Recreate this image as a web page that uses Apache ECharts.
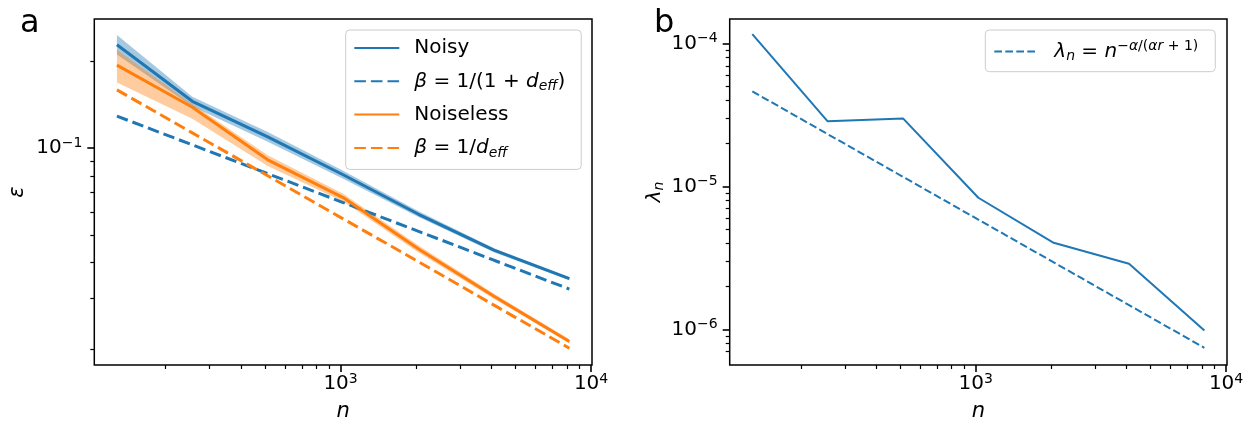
<!DOCTYPE html>
<html><head><meta charset="utf-8">
<script src="https://cdn.jsdelivr.net/npm/echarts@6/dist/echarts.min.js"></script>
<style>html,body{margin:0;padding:0;background:#fff}#c{width:1256px;height:427px}</style>
</head><body><div id="c"></div>
<script>
// ---- data ----
const nValues = [128, 256, 512, 1024, 2048, 4096, 8192];
const noisyMean      = [0.2284, 0.1453, 0.1094, 0.0808, 0.0589, 0.0442, 0.0352];
const noisyLower     = [0.2110, 0.1393, 0.1052, 0.0783, 0.0576, 0.0435, 0.0348];
const noisyUpper     = [0.2470, 0.1507, 0.1138, 0.0834, 0.0604, 0.0449, 0.0356];
const noisyTheory    = [0.1291, 0.1026, 0.0815, 0.0647, 0.0514, 0.0408, 0.0324];
const noiselessMean  = [0.1940, 0.1386, 0.0910, 0.0673, 0.0446, 0.0306, 0.0213];
const noiselessLower = [0.1688, 0.1264, 0.0866, 0.0652, 0.0434, 0.0300, 0.0210];
const noiselessUpper = [0.2195, 0.1423, 0.0944, 0.0694, 0.0459, 0.0312, 0.0217];
const noiselessTheory= [0.1592, 0.1129, 0.0801, 0.0568, 0.0403, 0.0285, 0.0202];
const lambdaEstimated= [1.166e-4, 2.86e-5, 3.0e-5, 8.35e-6, 4.04e-6, 2.88e-6, 9.85e-7];
const lambdaTheory   = [4.64e-5, 2.33e-5, 1.17e-5, 5.87e-6, 2.95e-6, 1.48e-6, 7.44e-7];

// axis limits and ticks
const xLimits = [103.97, 10086];
const leftYLimits = [0.01766, 0.2805];
const rightYLimits = [5.64e-7, 1.4885e-4];
const xMajorTicks = [1000, 10000];
const xMinorTicks = [200, 300, 400, 500, 600, 700, 800, 900, 2000, 3000, 4000, 5000, 6000, 7000, 8000, 9000];
const leftYMajorTicks = [0.1];
const leftYMinorTicks = [0.02, 0.03, 0.04, 0.05, 0.06, 0.07, 0.08, 0.09, 0.2];
const rightYMajorTicks = [1e-6, 1e-5, 1e-4];
const rightYMinorTicks = [7e-7, 8e-7, 9e-7, 2e-6, 3e-6, 4e-6, 5e-6, 6e-6, 7e-6, 8e-6, 9e-6,
                          2e-5, 3e-5, 4e-5, 5e-5, 6e-5, 7e-5, 8e-5, 9e-5];

const legendLeftNames = ['Noisy', 'β = 1/(1 + d_eff)', 'Noiseless', 'β = 1/d_eff'];
const legendRightNames = ['λ_n = n^(−α/(αr + 1))'];
const legendLabels = {
  'Noisy': 'Noisy',
  'β = 1/(1 + d_eff)': '{it|β} = 1/(1 + {it|d}{sub|eff})',
  'Noiseless': 'Noiseless',
  'β = 1/d_eff': '{it|β} = 1/{it|d}{sub|eff}',
  'λ_n = n^(−α/(αr + 1))': '{it|λ}{sub|n} = {it|n}{sup|−}{supi|α}{sup|/(}{supi|αr}{sup| + 1)}'
};

// ---- styling ----
const F = 'DejaVu Sans';
const BLUE = '#1f77b4', ORANGE = '#ff7f0e';
const lg = v => Math.log10(v);
const tickRich = {
  b: {fontFamily: F, fontSize: 20, lineHeight: 24, color: '#000'},
  s: {fontFamily: F, fontSize: 14, lineHeight: 15, verticalAlign: 'top', color: '#000'}
};
const mathRich = {
  it: {fontFamily: F, fontStyle: 'italic', fontSize: 20, lineHeight: 24, color: '#000'},
  sub: {fontFamily: F, fontStyle: 'italic', fontSize: 14, lineHeight: 15, verticalAlign: 'bottom', color: '#000'},
  sup: {fontFamily: F, fontSize: 14, lineHeight: 13, verticalAlign: 'top', color: '#000'},
  supi: {fontFamily: F, fontStyle: 'italic', fontSize: 14, lineHeight: 13, verticalAlign: 'top', color: '#000'}
};
function majorLabel(v) {
  const e = Math.round(v);
  return '{b|10}{s|' + (e < 0 ? '\u2212' + (-e) : String(e)) + '}';
}
function logAxis(grid, lim) {
  return {type: 'log', logBase: 10, gridIndex: grid, min: lim[0], max: lim[1], show: false};
}
function majorAxis(grid, lim, ticks, pos, margin, extra) {
  return Object.assign({
    type: 'value', gridIndex: grid, position: pos, min: lg(lim[0]), max: lg(lim[1]),
    axisLine: {show: false}, splitLine: {show: false},
    axisTick: {show: true, customValues: ticks.map(lg), length: 7, lineStyle: {color: '#000', width: 1.6}},
    axisLabel: {show: true, customValues: ticks.map(lg), formatter: majorLabel, rich: tickRich,
                margin: margin, color: '#000', fontFamily: F, fontSize: 20}
  }, extra || {});
}
function minorAxis(grid, lim, ticks, pos) {
  return {
    type: 'value', gridIndex: grid, position: pos, min: lg(lim[0]), max: lg(lim[1]),
    axisLine: {show: false}, splitLine: {show: false}, axisLabel: {show: false},
    axisTick: {show: true, customValues: ticks.map(lg), length: 4, lineStyle: {color: '#000', width: 1.2}}
  };
}
function bandSeries(name, lower, upper, color, xi, yi) {
  return {
    type: 'custom', name: name, xAxisIndex: xi, yAxisIndex: yi, clip: true, silent: true,
    data: nValues.map((n, i) => [n, lower[i], upper[i]]),
    encode: {x: 0, y: [1, 2]},
    renderItem: function (params, api) {
      if (params.dataIndex !== 0) return null;
      const pts = [];
      for (let i = 0; i < nValues.length; i++) pts.push(api.coord([nValues[i], upper[i]]));
      for (let i = nValues.length - 1; i >= 0; i--) pts.push(api.coord([nValues[i], lower[i]]));
      return {type: 'polygon', shape: {points: pts}, style: {fill: color}};
    }
  };
}
function lineSeries(name, vals, color, width, dash, xi, yi) {
  return {
    type: 'line', name: name, xAxisIndex: xi, yAxisIndex: yi,
    data: nValues.map((n, i) => [n, vals[i]]),
    symbol: 'none', showSymbol: false, clip: true, silent: true,
    lineStyle: {color: color, width: width, type: dash || 'solid'},
    itemStyle: {color: color}, emphasis: {disabled: true}
  };
}
const nameStyleN = {fontFamily: F, fontStyle: 'italic', fontSize: 21, lineHeight: 21, color: '#000'};

const option = {
  animation: false,
  grid: [
    {left: 94.3, top: 19, width: 497.7, height: 350.7, show: true, borderColor: '#000', borderWidth: 1.5, backgroundColor: 'rgba(0,0,0,0)'},
    {left: 729.7, top: 19, width: 497.3, height: 350.7, show: true, borderColor: '#000', borderWidth: 1.5, backgroundColor: 'rgba(0,0,0,0)'}
  ],
  xAxis: [
    logAxis(0, xLimits),
    majorAxis(0, xLimits, xMajorTicks, 'bottom', 7, {name: 'n', nameLocation: 'middle', nameGap: 36, nameTextStyle: nameStyleN}),
    minorAxis(0, xLimits, xMinorTicks, 'bottom'),
    logAxis(1, xLimits),
    majorAxis(1, xLimits, xMajorTicks, 'bottom', 7, {name: 'n', nameLocation: 'middle', nameGap: 36, nameTextStyle: nameStyleN}),
    minorAxis(1, xLimits, xMinorTicks, 'bottom')
  ],
  yAxis: [
    logAxis(0, leftYLimits),
    majorAxis(0, leftYLimits, leftYMajorTicks, 'left', 12, {name: 'ε', nameLocation: 'middle', nameRotate: 90, nameGap: 66, nameTextStyle: nameStyleN}),
    minorAxis(0, leftYLimits, leftYMinorTicks, 'left'),
    logAxis(1, rightYLimits),
    majorAxis(1, rightYLimits, rightYMajorTicks, 'left', 12, {name: '{it|λ}{sub|n}', nameLocation: 'middle', nameRotate: 90, nameGap: 63,
      nameTextStyle: {fontFamily: F, fontSize: 20, lineHeight: 24, color: '#000', rich: mathRich}}),
    minorAxis(1, rightYLimits, rightYMinorTicks, 'left')
  ],
  legend: [
    {
      data: legendLeftNames, orient: 'vertical', left: 345.7, top: 30,
      itemWidth: 45, itemHeight: 14, itemGap: 9.3, padding: [6, 16, 9.5, 7.6],
      backgroundColor: 'rgba(255,255,255,0.8)', borderColor: '#cccccc', borderWidth: 1, borderRadius: 4,
      selectedMode: false, itemStyle: {opacity: 0},
      textStyle: {fontFamily: F, fontSize: 20, lineHeight: 24, color: '#000', padding: [0, 0, 0, 10], rich: mathRich},
      formatter: n => legendLabels[n] || n
    },
    {
      data: legendRightNames, orient: 'vertical', left: 985.3, top: 30,
      itemWidth: 43, itemHeight: 14, itemGap: 8, padding: [9.5, 17, 8.2, 8],
      backgroundColor: 'rgba(255,255,255,0.8)', borderColor: '#cccccc', borderWidth: 1, borderRadius: 4,
      selectedMode: false, itemStyle: {opacity: 0},
      textStyle: {fontFamily: F, fontSize: 20, lineHeight: 24, color: '#000', padding: [0, 0, 0, 12], rich: mathRich},
      formatter: n => legendLabels[n] || n
    }
  ],
  graphic: [
    {type: 'text', left: 20, top: 7.8, style: {text: 'a', font: '32px "DejaVu Sans"', fill: '#000'}},
    {type: 'text', left: 654, top: 7.8, style: {text: 'b', font: '32px "DejaVu Sans"', fill: '#000'}}
  ],
  series: [
    bandSeries('Noisy band', noisyLower, noisyUpper, 'rgba(31,119,180,0.4)', 0, 0),
    lineSeries('Noisy', noisyMean, BLUE, 3, 'solid', 0, 0),
    lineSeries('β = 1/(1 + d_eff)', noisyTheory, BLUE, 3, [11.6, 5], 0, 0),
    bandSeries('Noiseless band', noiselessLower, noiselessUpper, 'rgba(255,127,14,0.4)', 0, 0),
    lineSeries('Noiseless', noiselessMean, ORANGE, 3, 'solid', 0, 0),
    lineSeries('β = 1/d_eff', noiselessTheory, ORANGE, 3, [11.6, 5], 0, 0),
    lineSeries('λ_n estimated', lambdaEstimated, BLUE, 2, 'solid', 3, 3),
    lineSeries('λ_n = n^(−α/(αr + 1))', lambdaTheory, BLUE, 2, [7.7, 3.3], 3, 3)
  ]
};
const chart = echarts.init(document.getElementById('c'), null, {renderer: 'canvas'});
chart.setOption(option);
</script></body></html>
